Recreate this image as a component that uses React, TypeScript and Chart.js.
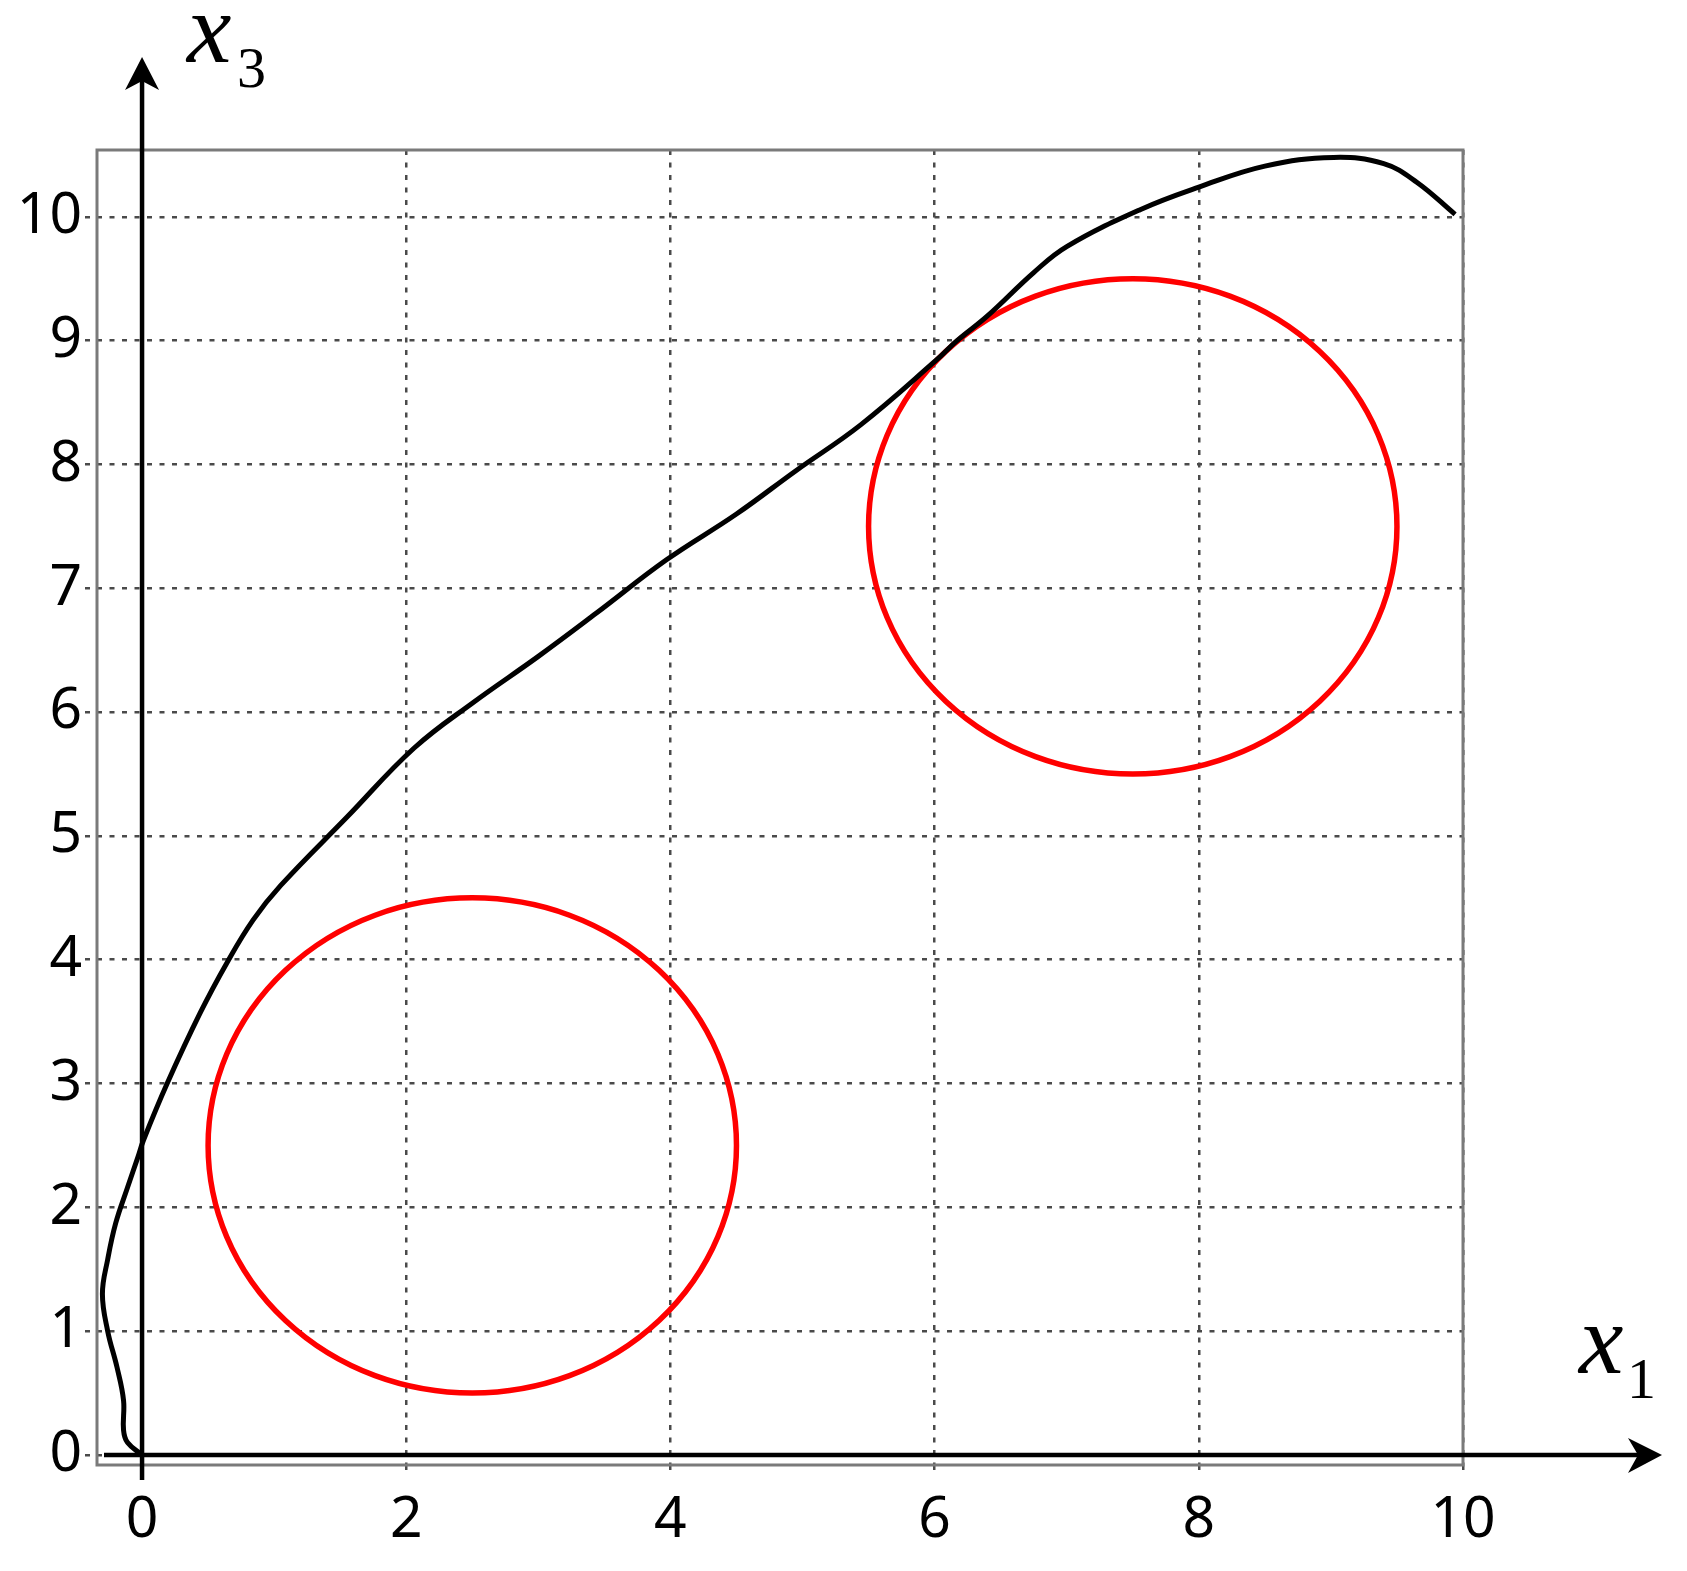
import React, { useEffect, useRef } from 'react';
import { Chart, registerables } from 'chart.js';

Chart.register(...registerables);

// Black trajectory (x1, x3)
const curveX = [0, -0.11, -0.14, -0.14, -0.19, -0.26, -0.3, -0.26, -0.2, -0.11, -0.03, 0.01, 0.19, 0.44, 0.64, 0.84, 1.05, 1.55, 2.06, 2.51, 3.0, 3.44, 3.97, 4.5, 4.95, 5.44, 6.01, 6.17, 6.4, 6.75, 7.0, 7.56, 8.0, 8.5, 9.02, 9.4, 9.65, 9.94];
const curveY = [0, 0.1, 0.2, 0.44, 0.71, 1.0, 1.3, 1.58, 1.87, 2.16, 2.41, 2.54, 3.0, 3.57, 3.97, 4.32, 4.6, 5.15, 5.71, 6.08, 6.45, 6.8, 7.23, 7.6, 7.95, 8.32, 8.84, 9.0, 9.2, 9.55, 9.76, 10.06, 10.24, 10.41, 10.48, 10.43, 10.28, 10.02];

// Red circles (obstacles)
const circleCx = [2.5, 7.5];
const circleCy = [2.5, 7.5];
const circleR = [2, 2];

// Ticks and axis labels
const xTicks = [0, 2, 4, 6, 8, 10];
const yTicks = [0, 1, 2, 3, 4, 5, 6, 7, 8, 9, 10];
const xAxisName = 'x';
const xAxisSub = '1';
const yAxisName = 'x';
const yAxisSub = '3';

export default function App() {
  const ref = useRef<HTMLCanvasElement>(null);

  useEffect(() => {
    document.body.style.margin = '0';
    document.body.style.overflow = 'hidden';
    const canvas = ref.current!;

    const overlay = {
      id: 'overlay',
      beforeDatasetsDraw(chart: any) {
        const { ctx, chartArea, scales } = chart;
        const x = scales.x;
        const y = scales.y;
        ctx.save();
        // frame
        ctx.strokeStyle = '#7a7a7a';
        ctx.lineWidth = 3;
        ctx.setLineDash([]);
        ctx.strokeRect(chartArea.left, chartArea.top, chartArea.right - chartArea.left, chartArea.bottom - chartArea.top);
        // circles
        ctx.strokeStyle = '#ff0000';
        ctx.lineWidth = 5.5;
        for (let i = 0; i < circleCx.length; i++) {
          const cx = x.getPixelForValue(circleCx[i]);
          const cy = y.getPixelForValue(circleCy[i]);
          const rx = x.getPixelForValue(circleCx[i] + circleR[i]) - cx;
          const ry = cy - y.getPixelForValue(circleCy[i] + circleR[i]);
          ctx.beginPath();
          ctx.ellipse(cx, cy, rx, ry, 0, 0, Math.PI * 2);
          ctx.stroke();
        }
        ctx.restore();
      },
      afterDatasetsDraw(chart: any) {
        const { ctx, chartArea, scales } = chart;
        const x0 = scales.x.getPixelForValue(0);
        const y0 = scales.y.getPixelForValue(0);
        ctx.save();
        ctx.setLineDash([]);
        ctx.strokeStyle = '#000';
        ctx.fillStyle = '#000';
        ctx.lineWidth = 4.5;
        // vertical axis arrow
        const tipY = chartArea.top - 93;
        ctx.beginPath();
        ctx.moveTo(x0, chartArea.bottom + 15);
        ctx.lineTo(x0, tipY + 15);
        ctx.stroke();
        ctx.beginPath();
        ctx.moveTo(x0, tipY);
        ctx.lineTo(x0 - 17, tipY + 33);
        ctx.lineTo(x0, tipY + 24);
        ctx.lineTo(x0 + 17, tipY + 33);
        ctx.closePath();
        ctx.fill();
        // horizontal axis arrow
        const tipX = chartArea.right + 199;
        ctx.beginPath();
        ctx.moveTo(chartArea.left + 7, y0);
        ctx.lineTo(tipX - 15, y0);
        ctx.stroke();
        ctx.beginPath();
        ctx.moveTo(tipX, y0);
        ctx.lineTo(tipX - 34, y0 - 17);
        ctx.lineTo(tipX - 24, y0);
        ctx.lineTo(tipX - 34, y0 + 18);
        ctx.closePath();
        ctx.fill();
        // axis names
        ctx.textBaseline = 'alphabetic';
        ctx.textAlign = 'left';
        ctx.font = 'italic 100px "Liberation Serif"';
        ctx.fillText(yAxisName, x0 + 45, chartArea.top - 88);
        ctx.fillText(xAxisName, chartArea.right + 116, y0 - 82);
        ctx.font = '58px "Liberation Serif"';
        ctx.fillText(yAxisSub, x0 + 95, chartArea.top - 63);
        ctx.fillText(xAxisSub, chartArea.right + 164, y0 - 57);
        ctx.restore();
      },
    };

    const dash = [5, 7.5];
    const chart = new Chart(canvas, {
      type: 'scatter',
      data: {
        datasets: [
          {
            data: curveX.map((v, i) => ({ x: v, y: curveY[i] })),
            showLine: true,
            borderColor: '#000',
            borderWidth: 5,
            pointRadius: 0,
            tension: 0.4,
            fill: false,
          },
        ],
      },
      options: {
        responsive: false,
        animation: false,
        devicePixelRatio: 1,
        events: [],
        layout: { padding: { top: 150, right: 224, bottom: 0, left: 0 } },
        plugins: { legend: { display: false }, tooltip: { enabled: false } },
        scales: {
          x: {
            type: 'linear',
            min: -0.341,
            max: 10,
            afterBuildTicks: (s: any) => {
              s.ticks = xTicks.map((v) => ({ value: v }));
            },
            afterFit: (s: any) => {
              s.height = 106;
            },
            ticks: {
              autoSkip: false,
              maxRotation: 0,
              color: '#000',
              padding: 14,
              font: { family: '"Noto Sans"', size: 57 },
            },
            grid: {
              color: '#4a4a4a',
              lineWidth: 2.5,
              tickLength: 8,
              tickColor: '#4a4a4a',
              tickWidth: 2.5,
              tickBorderDash: dash,
            },
            border: { display: false, dash: dash },
          },
          y: {
            type: 'linear',
            min: -0.081,
            max: 10.54,
            afterBuildTicks: (s: any) => {
              s.ticks = yTicks.map((v) => ({ value: v }));
            },
            afterFit: (s: any) => {
              s.width = 97;
            },
            ticks: {
              autoSkip: false,
              color: '#000',
              padding: 3,
              font: { family: '"Noto Sans"', size: 57 },
            },
            grid: {
              color: '#4a4a4a',
              lineWidth: 2.5,
              tickLength: 12,
              tickColor: '#4a4a4a',
              tickWidth: 2.5,
              tickBorderDash: dash,
            },
            border: { display: false, dash: dash },
          },
        },
      },
      plugins: [overlay],
    });

    return () => chart.destroy();
  }, []);

  return (
    <div style={{ width: 1687, height: 1571, background: '#fff' }}>
      <canvas ref={ref} width={1687} height={1571} style={{ display: 'block' }} />
    </div>
  );
}
